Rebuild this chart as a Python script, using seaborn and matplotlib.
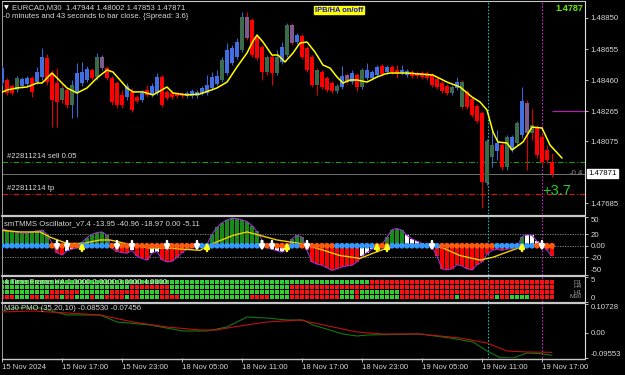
import matplotlib
matplotlib.use("Agg")
import matplotlib.pyplot as plt
from matplotlib.lines import Line2D
import numpy as np
import pandas as pd
import seaborn as sns

# ---------------- data ----------------
symbol_line = "EURCAD,M30  1.47944 1.48002 1.47853 1.47871"
timer_line = "-0 minutes and 43 seconds to bar close. {Spread: 3.6}"
time_labels = ["15 Nov 2024", "15 Nov 17:00", "15 Nov 23:00", "18 Nov 05:00", "18 Nov 11:00",
               "18 Nov 17:00", "18 Nov 23:00", "19 Nov 05:00", "19 Nov 11:00", "19 Nov 17:00"]
time_label_bars = [0, 12, 24, 36, 48, 60, 72, 84, 96, 108]

opens = [1.48441, 1.48460, 1.48422, 1.48397, 1.48422, 1.48435, 1.48473, 1.48447, 1.48479, 1.48598,
         1.48504, 1.48441, 1.48410, 1.48397, 1.48303, 1.48378, 1.48441, 1.48460, 1.48523, 1.48479,
         1.48535, 1.48535, 1.48473, 1.48441, 1.48366, 1.48353, 1.48385, 1.48353, 1.48334, 1.48397,
         1.48366, 1.48378, 1.48479, 1.48385, 1.48378, 1.48372, 1.48372, 1.48359, 1.48359, 1.48359,
         1.48378, 1.48378, 1.48410, 1.48435, 1.48460, 1.48504, 1.48567, 1.48605, 1.48649, 1.48856,
         1.48837, 1.48731, 1.48668, 1.48605, 1.48605, 1.48504, 1.48573, 1.48617, 1.48806, 1.48699,
         1.48737, 1.48661, 1.48605, 1.48523, 1.48510, 1.48473, 1.48441, 1.48391, 1.48416, 1.48491,
         1.48447, 1.48491, 1.48416, 1.48473, 1.48473, 1.48491, 1.48548, 1.48510, 1.48542, 1.48523,
         1.48504, 1.48491, 1.48510, 1.48504, 1.48504, 1.48504, 1.48491, 1.48466, 1.48441, 1.48422,
         1.48378, 1.48410, 1.48447, 1.48385, 1.48341, 1.48296, 1.48252, 1.47812, 1.47976, 1.48014,
         1.48051, 1.47913, 1.48020, 1.48064, 1.48114, 1.48315, 1.48177, 1.48158, 1.48101, 1.48020,
         1.47944]
highs = [1.48548, 1.48473, 1.48435, 1.48485, 1.48479, 1.48485, 1.48485, 1.48542, 1.48661, 1.48623,
         1.48523, 1.48535, 1.48429, 1.48410, 1.48460, 1.48567, 1.48573, 1.48548, 1.48535, 1.48630,
         1.48617, 1.48548, 1.48485, 1.48454, 1.48397, 1.48441, 1.48410, 1.48366, 1.48397, 1.48429,
         1.48441, 1.48504, 1.48491, 1.48397, 1.48391, 1.48385, 1.48385, 1.48391, 1.48403, 1.48397,
         1.48422, 1.48491, 1.48510, 1.48523, 1.48605, 1.48693, 1.48680, 1.48724, 1.48888, 1.48888,
         1.48850, 1.48743, 1.48680, 1.48617, 1.48617, 1.48649, 1.48699, 1.48819, 1.48819, 1.48756,
         1.48749, 1.48674, 1.48617, 1.48535, 1.48523, 1.48485, 1.48454, 1.48435, 1.48548, 1.48504,
         1.48523, 1.48504, 1.48535, 1.48567, 1.48523, 1.48554, 1.48561, 1.48554, 1.48554, 1.48554,
         1.48554, 1.48529, 1.48523, 1.48517, 1.48517, 1.48517, 1.48504, 1.48479, 1.48454, 1.48435,
         1.48429, 1.48479, 1.48460, 1.48397, 1.48353, 1.48309, 1.48265, 1.48089, 1.48146, 1.48146,
         1.48064, 1.48114, 1.48114, 1.48202, 1.48416, 1.48334, 1.48278, 1.48177, 1.48127, 1.48051,
         1.48002]
lows = [1.48429, 1.48366, 1.48366, 1.48385, 1.48410, 1.48422, 1.48353, 1.48435, 1.48460, 1.48429,
        1.48164, 1.48164, 1.48315, 1.48284, 1.48221, 1.48227, 1.48422, 1.48447, 1.48460, 1.48460,
        1.48523, 1.48460, 1.48303, 1.48284, 1.48284, 1.48334, 1.48259, 1.48315, 1.48322, 1.48353,
        1.48353, 1.48366, 1.48290, 1.48334, 1.48341, 1.48347, 1.48347, 1.48347, 1.48347, 1.48347,
        1.48366, 1.48366, 1.48397, 1.48422, 1.48447, 1.48491, 1.48554, 1.48592, 1.48636, 1.48712,
        1.48605, 1.48586, 1.48460, 1.48491, 1.48429, 1.48491, 1.48561, 1.48605, 1.48680, 1.48686,
        1.48592, 1.48510, 1.48416, 1.48366, 1.48403, 1.48385, 1.48378, 1.48378, 1.48403, 1.48435,
        1.48435, 1.48391, 1.48403, 1.48460, 1.48460, 1.48479, 1.48485, 1.48498, 1.48498, 1.48473,
        1.48491, 1.48479, 1.48473, 1.48473, 1.48466, 1.48460, 1.48416, 1.48403, 1.48378, 1.48366,
        1.48366, 1.48397, 1.48278, 1.48278, 1.48227, 1.48190, 1.47655, 1.47799, 1.47913, 1.47957,
        1.47894, 1.47894, 1.48007, 1.48051, 1.48095, 1.47894, 1.48083, 1.47969, 1.47925, 1.47938,
        1.47853]
closes = [1.48535, 1.48378, 1.48378, 1.48473, 1.48466, 1.48473, 1.48385, 1.48510, 1.48605, 1.48447,
          1.48334, 1.48322, 1.48334, 1.48303, 1.48429, 1.48504, 1.48510, 1.48529, 1.48473, 1.48605,
          1.48605, 1.48473, 1.48322, 1.48303, 1.48303, 1.48422, 1.48271, 1.48328, 1.48378, 1.48366,
          1.48422, 1.48479, 1.48303, 1.48347, 1.48353, 1.48359, 1.48359, 1.48378, 1.48391, 1.48385,
          1.48410, 1.48429, 1.48479, 1.48485, 1.48586, 1.48649, 1.48661, 1.48699, 1.48856, 1.48724,
          1.48617, 1.48598, 1.48510, 1.48510, 1.48504, 1.48605, 1.48668, 1.48806, 1.48693, 1.48743,
          1.48605, 1.48523, 1.48429, 1.48429, 1.48416, 1.48397, 1.48391, 1.48422, 1.48485, 1.48447,
          1.48504, 1.48416, 1.48523, 1.48523, 1.48510, 1.48542, 1.48498, 1.48542, 1.48510, 1.48504,
          1.48523, 1.48517, 1.48485, 1.48485, 1.48479, 1.48473, 1.48429, 1.48416, 1.48391, 1.48378,
          1.48416, 1.48447, 1.48290, 1.48290, 1.48240, 1.48202, 1.47818, 1.48076, 1.48051, 1.48064,
          1.47913, 1.48101, 1.48101, 1.48190, 1.48328, 1.48127, 1.48127, 1.47988, 1.47944, 1.47957,
          1.47871]
# bars whose Heiken-Ashi overlay disagrees with the candle (drawn olive / violet)
ha_green_bars = [3, 12, 14, 19, 44, 48, 53, 55, 57, 63, 67, 72, 90, 92, 97, 98, 101, 103, 106]
ha_violet_bars = [20, 49, 58, 69, 105]

# moving average (yellow): bar position, price
ma_pos = [-0.4, 1, 3, 5, 7, 8, 10, 11, 12, 13, 15, 17, 19, 21, 22.2, 23.6, 25, 26.2, 28.2, 30.2,
          33, 34.2, 37, 39.6, 43, 45, 47, 49, 50, 51, 52.2, 54, 55.2, 56.6, 58.2, 59.6, 61, 62.6,
          64.2, 65.6, 67, 68.2, 69.6, 71, 73, 75, 76.6, 77.6, 81, 86.2, 89, 91.6, 94, 95.6, 97,
          98.2, 99.2, 101, 102, 104.2, 106, 108, 109.6, 112]
ma_val = [1.48378, 1.48397, 1.48410, 1.48416, 1.48441, 1.48441, 1.48504, 1.48473, 1.48441, 1.48410,
          1.48378, 1.48410, 1.48473, 1.48523, 1.48510, 1.48460, 1.48410, 1.48385, 1.48385, 1.48366,
          1.48416, 1.48378, 1.48366, 1.48372, 1.48410, 1.48447, 1.48542, 1.48630, 1.48693, 1.48743,
          1.48699, 1.48617, 1.48617, 1.48573, 1.48630, 1.48693, 1.48699, 1.48636, 1.48554, 1.48535,
          1.48479, 1.48441, 1.48460, 1.48460, 1.48447, 1.48479, 1.48498, 1.48504, 1.48504, 1.48491,
          1.48447, 1.48416, 1.48353, 1.48322, 1.48271, 1.48133, 1.48070, 1.48064, 1.48020, 1.48070,
          1.48164, 1.48158, 1.48051, 1.47969]

price_ticks = [1.48850, 1.48655, 1.48460, 1.48265, 1.48075, 1.47685]
bid_price = 1.47871
sell_price = 1.47944
tp_price = 1.47743
level_price = 1.48265
sell_label = "#22811214 sell 0.05"
tp_label = "#22811214 tp"
profit_label = "+3.7"
corner_price = "1.4787"
cyan_bar, magenta_bar = 97.2, 108

# smTMMS oscillator
osc_title = "smTMMS Oscillator_v7.4 -13.95 -40.96 -18.97 0.00 -5.11"
osc_hist = [30, 27, 25, 23, 22, 22, 24, 26, 27, 20,
            5, -12, -16, -9, -6, -3,
            6, 14, 20, 23, 24, 18,
            -4, -10, -12, -13, -8, -18, -22, -25, -13, -10, -24, -28, -27, -20, -12, -6, -3, -2, -1, 2,
            20, 32, 40, 45, 48, 47, 45, 42, 35, 25, 10,
            -3, -6, -9, -11, -8,
            12, 18, 15,
            -8, -28, -32, -34, -38, -43, -40, -37, -35, -34, -28, -18, -12, -6, -2, 2,
            15, 28, 30, 27, 18, 12, 8, 4, 1, -1,
            -18, -40, -42, -40, -33, -35, -40, -42, -33, -28, -15,
            -8, -6, -8, -6, -5, -3,
            16, 19, 18, 8, 2, -8, -18]
osc_hist_state_runs = [("up", 11), ("down", 2), ("fade", 3), ("up", 6), ("down", 4), ("fade", 1),
                       ("down", 3), ("fade", 2), ("down", 7), ("fade", 3), ("up", 11), ("fade", 5),
                       ("up", 3), ("down", 11), ("fade", 5), ("up", 4), ("fade", 6), ("down", 17),
                       ("up", 1), ("fade", 4), ("down", 2)]
osc_dot_runs = [("b", 10), ("o", 6), ("b", 6), ("o", 17), ("b", 14), ("o", 5), ("b", 2), ("o", 7),
                ("b", 8), ("o", 3), ("b", 10), ("o", 11), ("b", 8), ("o", 4)]
osc_sig_pos = [-0.4, 3.6, 7.6, 9.6, 13, 16.2, 19.6, 21.6, 26.2, 29.6, 33, 36.2, 39.6, 42.2, 46.2, 49,
               51.6, 55, 59.6, 63.6, 67.6, 71.6, 74.2, 77, 79.6, 85.6, 88.2, 91.6, 95.6, 98.2, 101,
               103.6, 107.6, 110.2]
osc_sig_val = [27, 24, 24, 15, 4, 4, 10, 10, 1, -4, -4, -6, -8, 4, 18, 24, 18, 10, 4, -6, -17, -22,
               -13, -4, 1, 1, -4, -17, -25, -20, -11, -3, 4, -4]
osc_down_arrows = [11, 13, 23, 26, 33, 39, 52, 54, 61, 86, 108]
osc_up_arrows = [16, 41, 57, 75, 77, 104]
osc_ticks = [50, 20, 0, -20, -50]
osc_tick_labels = ["50", "20", "0.00", "-20", "-50"]
osc_levels = [20, 0, -20]

# 4 time frame Heiken Ashi
ha_title = "4 Time Frame HA 1.0000 2.0000 3.0000 4.0000"
ha_frames = ["D1", "H4", "H1", "M30"]
ha_runs = {
    "D1": [("g", 74), ("r", 37)],
    "H4": [("g", 26), ("r", 8), ("g", 24), ("r", 53)],
    "H1": [("g", 10), ("r", 6), ("g", 6), ("r", 6), ("g", 4), ("r", 2), ("g", 24), ("r", 10),
           ("g", 3), ("r", 1), ("g", 8), ("r", 31)],
    "M30": [("r", 3), ("g", 3), ("r", 2), ("g", 1), ("r", 3), ("g", 1), ("r", 2), ("g", 3), ("r", 1),
            ("g", 2), ("r", 4), ("g", 1), ("r", 2), ("g", 4), ("r", 4), ("g", 14), ("r", 4), ("g", 4),
            ("r", 10), ("g", 3), ("r", 1), ("g", 8), ("r", 11), ("g", 1), ("r", 7), ("g", 1), ("r", 2),
            ("g", 4), ("r", 5)],
}

# PMO
pmo_title = "M30 PMO (35,20,10) -0.08530 -0.07456"
pmo_green_pos = [-0.4, 2.2, 7.6, 13, 19.6, 23, 29.6, 36.2, 41, 45, 49, 53, 57, 60.2, 62.2, 68.2, 71,
                 73, 83.6, 89.6, 94.2, 97, 99.6, 102.2, 105, 107.6, 110]
pmo_green_val = [0.0772, 0.0923, 0.0923, 0.0660, 0.0660, 0.0397, 0.0284, 0.0059, 0.0059, 0.0209,
                 0.0585, 0.0547, 0.0472, 0.0472, 0.0284, -0.0054, -0.0129, -0.0091, -0.0054,
                 -0.0204, -0.0354, -0.0692, -0.0940, -0.09553, -0.0768, -0.0790, -0.0853]
pmo_red_pos = [-0.4, 6.2, 13, 19.6, 26.2, 33, 39.6, 43, 46.2, 53, 59.6, 66.2, 71, 76.2, 83.6, 91.6,
               97, 101, 105, 109, 110]
pmo_red_val = [0.0772, 0.0810, 0.0735, 0.0660, 0.0397, 0.0209, 0.0096, 0.0096, 0.0209, 0.0397,
               0.0472, 0.0209, 0.0021, -0.0054, -0.0054, -0.0204, -0.0392, -0.0692, -0.0730,
               -0.0740, -0.0746]
pmo_ticks = [0.10728, 0.0, -0.09553]
pmo_tick_labels = ["0.10728", "0.00", "-0.09553"]


def expand(runs):
    out = []
    for v, n in runs:
        out += [v] * n
    return out


# ---------------- style ----------------
sns.set_theme(style="dark", rc={
    "figure.facecolor": "black", "axes.facecolor": "black", "savefig.facecolor": "black",
    "axes.edgecolor": "#c0c0c0", "axes.grid": False, "text.color": "#d8d8d8",
    "xtick.color": "#d8d8d8", "ytick.color": "#d8d8d8",
})
plt.rcParams["font.family"] = ["Liberation Sans", "DejaVu Sans"]

W, H = 625, 375
fig = plt.figure(figsize=(W / 100, H / 100), dpi=100)


def rect(x0, y0, x1, y1):
    return [x0 / W, 1 - y1 / H, (x1 - x0) / W, (y1 - y0) / H]


def ftext(x, y, s, **kw):
    fig.text(x / W, 1 - y / H, s, **kw)


XL, XR = 2, 585
xmax = (XR - XL) / 5.0
FS = 5.6
TXT = "#d8d8d8"

ax_main = fig.add_axes(rect(XL, 1, XR, 214.5))
ax_osc = fig.add_axes(rect(XL, 217, XR, 274.5))
ax_ha = fig.add_axes(rect(XL, 277, XR, 302))
ax_pmo = fig.add_axes(rect(XL, 304, XR, 358))
axes = [ax_main, ax_osc, ax_ha, ax_pmo]

for ax in axes:
    ax.set_xlim(0, xmax)
    ax.set_facecolor("black")
    for s in ["top", "bottom"]:
        ax.spines[s].set_visible(False)
    ax.spines["left"].set_color("#a0a0a0")
    ax.spines["left"].set_linewidth(0.7)
    ax.spines["right"].set_color("#e0e0e0")
    ax.spines["right"].set_linewidth(0.8)
    ax.yaxis.tick_right()
    ax.tick_params(axis="y", length=2.5, width=0.6, labelsize=FS, pad=1.5, colors=TXT)
    ax.tick_params(axis="x", bottom=False, labelbottom=False)
    ax.axvline(cyan_bar, color="#1fb5b5", lw=0.8, ls=(0, (1.5, 1.5)), zorder=1)
    ax.axvline(magenta_bar, color="#d020d0", lw=0.8, ls=(0, (1.5, 1.5)), zorder=1)

# ---------------- main price chart ----------------
df = pd.DataFrame({"O": opens, "H": highs, "L": lows, "C": closes})
df["i"] = np.arange(len(df))
up = df["C"] >= df["O"]
BLUE, RED = "#3f6fe0", "#ff0000"
body_col = np.where(up, BLUE, RED).astype(object)
wick_col = np.where(up, "#3a64d0", "#e00000").astype(object)
for b in ha_green_bars:
    body_col[b] = "#3b6b4a"
for b in ha_violet_bars:
    body_col[b] = "#7d5a8c"
ax_main.vlines(df["i"], df["L"], df["H"], colors=list(wick_col), lw=0.8, zorder=3)
ax_main.bar(df["i"], (df["C"] - df["O"]).abs().clip(lower=0.00002), bottom=np.minimum(df["O"], df["C"]),
            width=0.62, color=list(body_col), lw=0, zorder=4)
sns.lineplot(x=ma_pos, y=ma_val, ax=ax_main, color="#ffff00", lw=1.1, sort=False, zorder=5)

ytop = 1.48850 + 17 * 0.0000629
ybot = 1.48850 - 196.5 * 0.0000629
ax_main.set_ylim(ybot, ytop)
ax_main.set_yticks(price_ticks)
ax_main.set_yticklabels([f"{p:.5f}" for p in price_ticks])
ax_main.set_xlabel("")
ax_main.set_ylabel("")

ax_main.axhline(sell_price, color="#1a9a1a", lw=0.8, ls=(0, (5, 2, 1, 2)), zorder=2)
ax_main.axhline(tp_price, color="#e01010", lw=0.8, ls=(0, (5, 2, 1, 2)), zorder=2)
ax_main.axhline(bid_price, color="#707070", lw=0.7, zorder=2)
ax_main.hlines(level_price, 110, xmax, color="#b020b0", lw=0.9, zorder=2)
ax_main.text(1.0, sell_price + 0.00012, sell_label, fontsize=FS, color=TXT, va="bottom", ha="left")
ax_main.text(1.0, tp_price + 0.00012, tp_label, fontsize=FS, color=TXT, va="bottom", ha="left")
ax_main.text(108.0, tp_price + 0.0002, profit_label, fontsize=10.5, color="#2ecc2e", va="center", ha="left")
ax_main.text(113.6, bid_price, "-0.4", fontsize=FS, color="#909090", va="center", ha="left", zorder=1)
ax_main.text(116.2, 1.48912, corner_price, fontsize=6.6, color="#66ee00", weight="bold",
             va="center", ha="right")
ax_main.text(1.006, bid_price, f"{bid_price:.5f}", transform=ax_main.get_yaxis_transform(),
             fontsize=FS, color="black", va="center", ha="left", clip_on=False,
             bbox=dict(boxstyle="square,pad=0.15", fc="white", ec="white"))

ftext(315, 10, "IPB/HA on/off", fontsize=5.4, color="#1010d0", weight="bold", va="center", ha="left",
      bbox=dict(boxstyle="square,pad=0.12", fc="#ffff00", ec="#ffff00"))
ftext(3.5, 7.5, "\u25bc", fontsize=4.5, color="white", va="center", ha="left", family="DejaVu Sans")
ftext(12, 7.5, symbol_line, fontsize=FS, color=TXT, va="center", ha="left")
ftext(3, 16, timer_line, fontsize=FS, color=TXT, va="center", ha="left")

# ---------------- oscillator ----------------
osc = pd.DataFrame({"i": np.arange(len(osc_hist)), "v": osc_hist, "s": expand(osc_hist_state_runs),
                    "d": expand(osc_dot_runs)})
hist_colors = {"up": "#1a8a1a", "down": "#ff0000", "fade": "#ffffff"}
ax_osc.bar(osc["i"], osc["v"], width=0.68, color=[hist_colors[s] for s in osc["s"]], lw=0, zorder=2)
for lv in osc_levels:
    ax_osc.axhline(lv, color="#909090", lw=0.6, ls=(0, (1.5, 1.5)), zorder=1)
sns.lineplot(x=osc["i"], y=osc["v"], ax=ax_osc, color="#9a30d0", lw=0.8, zorder=3)
sns.lineplot(x=osc_sig_pos, y=osc_sig_val, ax=ax_osc, color="#f0d000", lw=1.0, zorder=4)
sns.scatterplot(data=osc, x="i", y=np.zeros(len(osc)), hue="d", palette={"b": "#3399ff", "o": "#ff5a10"},
                s=17, linewidth=0, legend=False, ax=ax_osc, zorder=5)
for b in osc_down_arrows:
    ax_osc.annotate("", xy=(b, -14), xytext=(b, 13),
                    arrowprops=dict(arrowstyle="-|>", color="white", lw=1.8, mutation_scale=7), zorder=6)
for b in osc_up_arrows:
    ax_osc.annotate("", xy=(b, 11), xytext=(b, -14),
                    arrowprops=dict(arrowstyle="-|>", color="#ffff20", lw=1.8, mutation_scale=7), zorder=6)
ax_osc.set_ylim(-50, 50)
ax_osc.set_yticks(osc_ticks)
ax_osc.set_yticklabels(osc_tick_labels)
ax_osc.set_xlabel("")
ax_osc.set_ylabel("")
ax_osc.set_xlim(0, xmax)
tl = ax_osc.get_yticklabels()
tl[0].set_va("top")
tl[-1].set_va("bottom")
ax_osc.text(0.4, 38, osc_title, fontsize=FS, color=TXT, va="center", ha="left", zorder=7)

# ---------------- 4TF HA ----------------
rows = []
for k, fr in enumerate(ha_frames):
    for i, c in enumerate(expand(ha_runs[fr])):
        rows.append({"i": i, "row": 4 - k, "c": c})
ha = pd.DataFrame(rows)
sns.scatterplot(data=ha, x="i", y="row", hue="c", palette={"g": "#2fd02f", "r": "#ff1010"}, marker="s",
                s=8.5, linewidth=0, legend=False, ax=ax_ha, zorder=2)
ax_ha.set_ylim(0, 5)
ax_ha.set_xlim(0, xmax)
ax_ha.set_yticks([5, 0])
ax_ha.set_yticklabels(["5", "0"])
tl = ax_ha.get_yticklabels()
tl[0].set_va("top")
tl[1].set_va("bottom")
ax_ha.set_xlabel("")
ax_ha.set_ylabel("")
ax_ha.text(0.4, 4.0, ha_title, fontsize=FS, color=TXT, va="center", ha="left", zorder=5)
for k, fr in enumerate(ha_frames):
    ax_ha.text(116.0, 4 - k, fr, fontsize=4.6, color="#9a9a9a", va="center", ha="right")

# ---------------- PMO ----------------
sns.lineplot(x=pmo_red_pos, y=pmo_red_val, ax=ax_pmo, color="#c01010", lw=0.8, zorder=3)
sns.lineplot(x=pmo_green_pos, y=pmo_green_val, ax=ax_pmo, color="#107a10", lw=0.8, zorder=2)
ax_pmo.set_ylim(-0.09553, 0.10728)
ax_pmo.set_yticks(pmo_ticks)
ax_pmo.set_yticklabels(pmo_tick_labels)
tl = ax_pmo.get_yticklabels()
tl[0].set_va("top")
tl[-1].set_va("bottom")
ax_pmo.set_xlim(0, xmax)
ax_pmo.set_xlabel("")
ax_pmo.set_ylabel("")
ax_pmo.text(0.4, 0.092, pmo_title, fontsize=FS, color=TXT, va="center", ha="left", zorder=5)
ax_pmo.set_xticks(time_label_bars)
ax_pmo.set_xticklabels(time_labels)
ax_pmo.tick_params(axis="x", bottom=True, labelbottom=True, length=3, width=0.6, labelsize=FS,
                   pad=1.5, colors=TXT)
for lbl in ax_pmo.get_xticklabels():
    lbl.set_ha("left")

# ---------------- frame lines ----------------
for yy, lw in [(0.8, 0.8), (215.5, 1.6), (276, 1.6), (303, 1.6), (358.5, 1.0)]:
    fig.add_artist(Line2D([XL / W, XR / W], [1 - yy / H, 1 - yy / H], color="#c8c8c8", lw=lw))

fig.savefig("out.png", dpi=100, facecolor="black")
